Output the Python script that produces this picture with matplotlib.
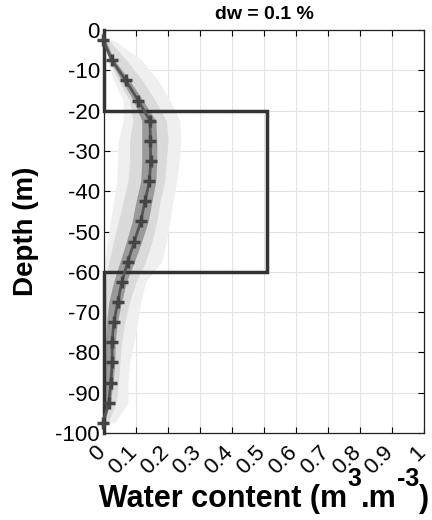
import numpy as np
import matplotlib.pyplot as plt
from matplotlib.transforms import ScaledTranslation

plt.rcParams['font.family'] = ['Liberation Sans', 'DejaVu Sans']
plt.rcParams['axes.unicode_minus'] = False

# depth of the profile samples (m)
depth = [-2.5, -7.5, -12.5, -17.5, -22.5, -27.5, -32.5, -37.5, -42.5, -47.5,
         -52.5, -57.5, -62.5, -67.5, -72.5, -77.5, -82.5, -87.5, -92.5, -97.5]

# mean recovered water content
theta_mean = [-0.003, 0.025, 0.068, 0.107, 0.144, 0.145, 0.146, 0.142, 0.128, 0.115,
              0.095, 0.074, 0.056, 0.043, 0.031, 0.025, 0.026, 0.021, 0.015, -0.004]

# uncertainty envelopes, widest first
outer_lo = [0.0, 0.01, 0.03, 0.06, 0.06, 0.045, 0.042, 0.04, 0.03, 0.02,
            0.01, 0.003, 0.0, 0.0, 0.0, 0.0, 0.0, 0.0, 0.0, -0.005]
outer_hi = [0.03, 0.118, 0.17, 0.206, 0.237, 0.24, 0.235, 0.227, 0.215, 0.206,
            0.195, 0.18, 0.13, 0.115, 0.105, 0.094, 0.08, 0.075, 0.075, 0.034]
mid_lo = [0.0, 0.015, 0.045, 0.08, 0.09, 0.08, 0.08, 0.075, 0.06, 0.045,
          0.03, 0.015, 0.005, 0.0, 0.0, 0.0, 0.0, 0.0, 0.0, -0.005]
mid_hi = [0.015, 0.07, 0.12, 0.16, 0.195, 0.2, 0.195, 0.19, 0.175, 0.165,
          0.15, 0.13, 0.1, 0.08, 0.065, 0.055, 0.05, 0.045, 0.038, 0.012]
inner_lo = [-0.005, 0.018, 0.055, 0.092, 0.118, 0.118, 0.118, 0.115, 0.1, 0.088,
            0.07, 0.05, 0.03, 0.015, 0.008, 0.005, 0.005, 0.003, 0.0, -0.006]
inner_hi = [0.005, 0.032, 0.08, 0.122, 0.162, 0.165, 0.165, 0.162, 0.15, 0.138,
            0.118, 0.095, 0.07, 0.055, 0.042, 0.035, 0.034, 0.028, 0.02, 0.0]

# true layered model
model_depth = [0, -20, -20, -60, -60, -100]
model_theta = [0, 0, 0.51, 0.51, 0, 0]

xtick_labels = ['0', '0.1', '0.2', '0.3', '0.4', '0.5', '0.6', '0.7', '0.8', '0.9', '1']

fig = plt.figure(figsize=(4.32, 5.2), dpi=100)
ax = fig.add_axes([0.2407, 0.1673, 0.7407, 0.775])

ax.fill_betweenx(depth, outer_lo, outer_hi, color='#efefef', lw=0, zorder=1)
ax.fill_betweenx(depth, mid_lo, mid_hi, color='#dadada', lw=0, zorder=1)
ax.fill_betweenx(depth, inner_lo, inner_hi, color='#9a9a9a', lw=0, zorder=1)

ax.plot(model_theta, model_depth, color='#333333', lw=2.5, zorder=3,
        solid_joinstyle='miter', clip_on=False)
ax.plot(theta_mean, depth, color='#555555', lw=2, marker='+', ms=9, mew=2.5,
        mec='#444444', zorder=4, clip_on=False)

ax.set_xlim(0, 1)
ax.set_ylim(-100, 0)
ax.set_xticks(np.arange(0, 1.01, 0.1))
ax.set_xticklabels(xtick_labels, rotation=45, ha='right', va='center',
                   rotation_mode='anchor')
ax.set_yticks(np.arange(-100, 1, 10))
ax.grid(True, color='#e3e3e3', lw=0.8, zorder=0)
ax.set_axisbelow(True)
ax.tick_params(direction='in', length=4, width=0.8, top=True, right=True,
               labelsize=16, pad=3)
ax.tick_params(axis='x', pad=12)
shift = ScaledTranslation(-2 / 100, 0, fig.dpi_scale_trans)
for lab in ax.get_xticklabels():
    lab.set_transform(lab.get_transform() + shift)
for sp in ax.spines.values():
    sp.set_linewidth(0.9)
    sp.set_color('#222222')

ax.set_ylabel('Depth (m)', fontsize=20, fontweight='bold', labelpad=12)
ax.set_title('dw = 0.1 %', fontsize=14, fontweight='bold', pad=8)

# x label built piece by piece so the exponents stay large
pieces = [('Water content (m', 22, 0), ('3', 18, 21), ('.m', 22, 0),
          ('-3', 18, 21), (')', 22, 0)]
renderer = fig.canvas.get_renderer()
texts = []
for s, size, rise in pieces:
    t = fig.text(0, 0, s, fontsize=size, fontweight='bold', va='baseline', ha='left')
    texts.append((t, rise))
widths = [t.get_window_extent(renderer).width for t, _ in texts]
x0 = (104 + 424) / 2 - sum(widths) / 2
base = 520 - 507
for (t, rise), w in zip(texts, widths):
    t.set_position((x0 / 432, (base + rise) / 520))
    x0 += w

fig.savefig('out.png', dpi=100)
